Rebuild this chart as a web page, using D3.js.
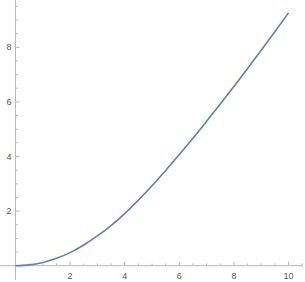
<!DOCTYPE html>
<html>
<head>
<meta charset="utf-8">
<script src="https://cdn.jsdelivr.net/npm/d3@7"></script>
<style>
  html, body { margin: 0; padding: 0; background: white; }
  svg { display: block; }
</style>
</head>
<body>
<script>
// Curve samples
const xs = [0, 0.5, 1, 1.5, 2, 2.5, 3, 3.5, 4, 4.5, 5, 5.5, 6, 6.5, 7, 7.5, 8, 8.5, 9, 9.5, 10];
const ys = [0, 0.03, 0.12, 0.27, 0.48, 0.76, 1.09, 1.47, 1.91, 2.4, 2.93, 3.49, 4.07, 4.67, 5.29, 5.92, 6.56, 7.22, 7.89, 8.57, 9.26];
const xTicks = [2, 4, 6, 8, 10];
const yTicks = [2, 4, 6, 8];

const width = 305, height = 282;

const x = d3.scaleLinear().domain([0, 10]).range([15.5, 288.5]);
const y = d3.scaleLinear().domain([0, 8]).range([265.7, 47.3]);

const svg = d3.select("body").append("svg")
  .attr("width", width)
  .attr("height", height);

const axisColor = "#b8b8b8";
const labelColor = "#555";

// minor ticks every 0.5, majors every 2
const xMinor = d3.range(0.5, 10.6, 0.5).filter(v => v % 2 !== 0);
const yMinor = d3.range(0.5, 9.76, 0.5).filter(v => v % 2 !== 0);

const xAxis = svg.append("g").attr("transform", `translate(0,${y(0)})`);
xAxis.append("line")
  .attr("x1", 0).attr("x2", 303)
  .attr("stroke", axisColor);
xAxis.selectAll(".minor").data(xMinor).join("line")
  .attr("x1", d => x(d)).attr("x2", d => x(d))
  .attr("y1", 0).attr("y2", -2.2)
  .attr("stroke", axisColor);
xAxis.selectAll(".major").data(xTicks).join("line")
  .attr("x1", d => x(d)).attr("x2", d => x(d))
  .attr("y1", 0).attr("y2", -4)
  .attr("stroke", axisColor);
xAxis.selectAll("text").data(xTicks).join("text")
  .attr("x", d => x(d))
  .attr("y", 13)
  .attr("text-anchor", "middle")
  .attr("font-family", "Liberation Sans, Arial, sans-serif")
  .attr("font-size", 9)
  .attr("fill", labelColor)
  .text(d => d);

const yAxis = svg.append("g").attr("transform", `translate(${x(0)},0)`);
yAxis.append("line")
  .attr("y1", 0).attr("y2", 280)
  .attr("stroke", axisColor);
yAxis.selectAll(".minor").data(yMinor).join("line")
  .attr("y1", d => y(d)).attr("y2", d => y(d))
  .attr("x1", 0).attr("x2", 2.2)
  .attr("stroke", axisColor);
yAxis.selectAll(".major").data(yTicks).join("line")
  .attr("y1", d => y(d)).attr("y2", d => y(d))
  .attr("x1", 0).attr("x2", 4)
  .attr("stroke", axisColor);
yAxis.selectAll("text").data(yTicks).join("text")
  .attr("x", -4)
  .attr("y", d => y(d))
  .attr("dy", "0.35em")
  .attr("text-anchor", "end")
  .attr("font-family", "Liberation Sans, Arial, sans-serif")
  .attr("font-size", 9)
  .attr("fill", labelColor)
  .text(d => d);

const line = d3.line()
  .x((d, i) => x(xs[i]))
  .y(d => y(d))
  .curve(d3.curveMonotoneX);

svg.append("path")
  .datum(ys)
  .attr("fill", "none")
  .attr("stroke", "#5e81b5")
  .attr("stroke-width", 1.6)
  .attr("d", line);
</script>
</body>
</html>
